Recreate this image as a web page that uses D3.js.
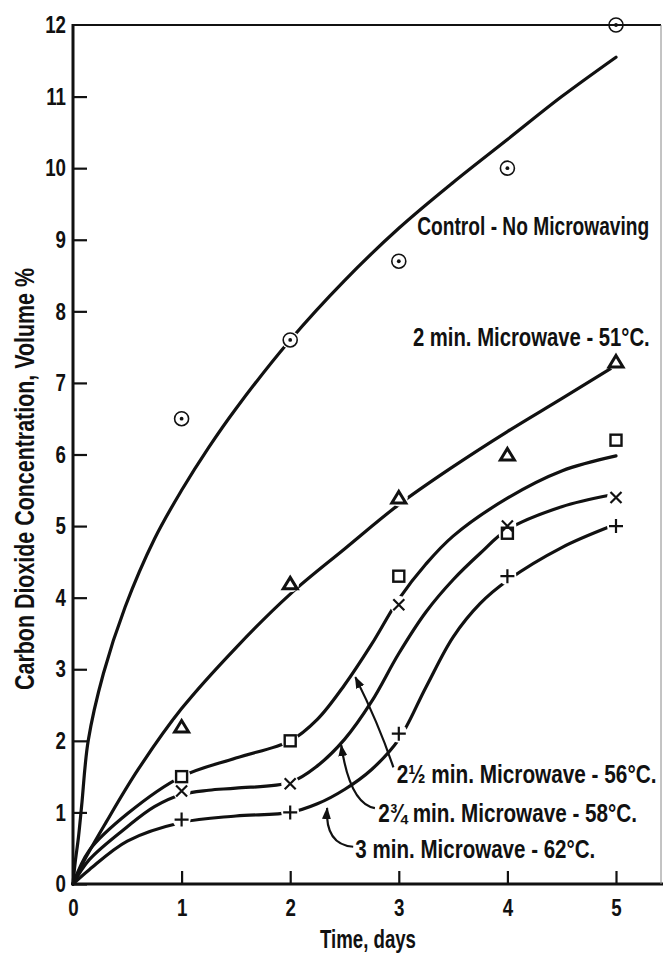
<!DOCTYPE html>
<html>
<head>
<meta charset="utf-8">
<script src="https://cdnjs.cloudflare.com/ajax/libs/d3/7.8.5/d3.min.js"></script>
<style>
    body { margin: 0; background: #fff; }
    svg text { font-family: "Liberation Sans", Arial, sans-serif; font-weight: bold; fill: #111; }
</style>
</head>
<body>
<div id="chart"></div>
<script>
// measured points (days 1..5)
var days = [1, 2, 3, 4, 5];
var controlPts = [6.5, 7.6, 8.7, 10.0, 12.0];
var twoMinPts = [2.2, 4.2, 5.4, 6.0, 7.3];
var twoHalfPts = [1.5, 2.0, 4.3, 4.9, 6.2];
var twoThreeQPts = [1.3, 1.4, 3.9, 5.0, 5.4];
var threeMinPts = [0.9, 1.0, 2.1, 4.3, 5.0];

// hand drawn curves as [day, volume %]
var controlCurve = [[0, 0], [0.02, 0.3], [0.05, 0.65], [0.08, 1.1], [0.14, 2.0], [0.28, 2.94], [0.48, 3.87],
    [0.75, 4.82], [1, 5.5], [1.25, 6.1], [1.5, 6.64], [2, 7.6], [2.5, 8.43], [3, 9.16], [3.5, 9.8],
    [4, 10.4], [4.5, 11.0], [5, 11.55]];
var twoMinCurve = [[0, 0], [0.09, 0.29], [0.3, 0.85], [0.6, 1.6], [1, 2.45], [1.5, 3.3], [2, 4.05],
    [2.5, 4.68], [3, 5.3], [3.5, 5.83], [4, 6.32], [4.5, 6.78], [4.95, 7.2]];
var twoHalfCurve = [[0, 0], [0.15, 0.47], [0.5, 0.98], [1, 1.5], [1.5, 1.76], [2, 2.0], [2.25, 2.3],
    [2.5, 2.78], [2.75, 3.35], [3, 3.98], [3.25, 4.47], [3.5, 4.86], [4, 5.39], [4.5, 5.77], [5, 5.98]];
var twoThreeQCurve = [[0, 0], [0.15, 0.34], [0.5, 0.8], [0.75, 1.08], [1, 1.25], [1.25, 1.31], [1.5, 1.34],
    [2, 1.42], [2.25, 1.65], [2.5, 2.02], [2.75, 2.55], [3, 3.22], [3.25, 3.8], [3.5, 4.25], [3.75, 4.62],
    [4, 4.95], [4.5, 5.27], [4.94, 5.43]];
var threeMinCurve = [[0, 0], [0.15, 0.2], [0.5, 0.6], [1, 0.86], [1.5, 0.95], [2, 1.0], [2.25, 1.12],
    [2.5, 1.32], [2.75, 1.6], [3, 2.02], [3.25, 2.75], [3.5, 3.45], [3.75, 3.92], [4, 4.24], [4.5, 4.7],
    [4.94, 4.99]];

var xTicks = [0, 1, 2, 3, 4, 5];
var yTicks = [0, 1, 2, 3, 4, 5, 6, 7, 8, 9, 10, 11, 12];

var curveLabels = ["Control - No Microwaving", "2 min. Microwave - 51\u00B0C.", "2\u00BD min. Microwave - 56\u00B0C.",
    "2\u00BE min. Microwave - 58\u00B0C.", "3 min. Microwave - 62\u00B0C."];

var width = 663, height = 953;

var x = d3.scaleLinear().domain([0, 5]).range([73, 616]);
var y = d3.scaleLinear().domain([0, 12]).range([884, 25]);

var svg = d3.select("#chart").append("svg")
    .attr("width", width)
    .attr("height", height);

var series = [
    {pts: controlPts, curve: controlCurve, shape: "dot"},
    {pts: twoMinPts, curve: twoMinCurve, shape: "triangle"},
    {pts: twoHalfPts, curve: twoHalfCurve, shape: "square"},
    {pts: twoThreeQPts, curve: twoThreeQCurve, shape: "times"},
    {pts: threeMinPts, curve: threeMinCurve, shape: "plus"}
];

var lineFunction = d3.line()
    .x(function (d) { return x(d[0]); })
    .y(function (d) { return y(d[1]); })
    .curve(d3.curveCatmullRom.alpha(0.5));

svg.append("g").selectAll("path")
    .data(series)
    .enter().append("path")
    .attr("fill", "none")
    .attr("stroke", "#111")
    .attr("stroke-width", 3.2)
    .attr("stroke-linecap", "round")
    .attr("d", function (d) { return lineFunction(d.curve); });

// the draftsman left a gap round each point
series.forEach(function (s) {
    svg.append("g").selectAll("circle")
        .data(s.pts)
        .enter().append("circle")
        .attr("cx", function (d, i) { return x(days[i]); })
        .attr("cy", function (d) { return y(d); })
        .attr("r", 9)
        .attr("fill", "#fff");
});

// squeeze a text sideways to the width it has in the print
function condense(sel, w, base) {
    var natural = sel.node().getComputedTextLength();
    sel.attr("transform", base + " scale(" + (w / natural) + ",1)");
}

// axes
var xAxis = svg.append("g")
    .attr("transform", "translate(0," + y(0) + ")")
    .call(d3.axisBottom(x).tickValues(xTicks).tickFormat(d3.format("d"))
        .tickSize(-13).tickSizeOuter(0).tickPadding(15));
var yAxis = svg.append("g")
    .attr("transform", "translate(" + x(0) + ",0)")
    .call(d3.axisLeft(y).tickValues(yTicks).tickFormat(d3.format("d"))
        .tickSize(-14).tickSizeOuter(0).tickPadding(7));

[xAxis, yAxis].forEach(function (a) {
    a.select(".domain").remove();
    a.selectAll(".tick line").attr("stroke", "#111").attr("stroke-width", 2.2);
    a.selectAll(".tick text").attr("font-size", 24).attr("fill", "#111");
});
xAxis.selectAll(".tick text").attr("transform", "scale(0.78,1)");
yAxis.selectAll(".tick text").attr("x", -7 / 0.78).attr("transform", "scale(0.78,1)");
yAxis.selectAll(".tick").filter(function (d) { return d === 12; }).select("line").remove();

// frame
svg.append("line")
    .attr("x1", x(0) - 1.5).attr("x2", width)
    .attr("y1", y(0)).attr("y2", y(0))
    .attr("stroke", "#111").attr("stroke-width", 3.2);
svg.append("line")
    .attr("x1", x(0)).attr("x2", x(0))
    .attr("y1", y(0)).attr("y2", y(12) - 1)
    .attr("stroke", "#111").attr("stroke-width", 3);
svg.append("line")
    .attr("x1", x(0)).attr("x2", width - 2)
    .attr("y1", y(12)).attr("y2", y(12))
    .attr("stroke", "#111").attr("stroke-width", 2);
svg.append("line")
    .attr("x1", width - 2).attr("x2", width - 2)
    .attr("y1", y(12)).attr("y2", y(0))
    .attr("stroke", "#888").attr("stroke-width", 1);

// point symbols
var shapes = {
    dot: function (g) {
        g.append("circle").attr("r", 7).attr("fill", "none").attr("stroke", "#111").attr("stroke-width", 1.6);
        g.append("circle").attr("r", 1.9).attr("fill", "#111");
    },
    triangle: function (g) {
        g.append("path").attr("d", "M0,-6L7,5.5L-7,5.5Z")
            .attr("fill", "none").attr("stroke", "#111").attr("stroke-width", 3).attr("stroke-linejoin", "miter");
    },
    square: function (g) {
        g.append("rect").attr("x", -5.5).attr("y", -5.5).attr("width", 11).attr("height", 11)
            .attr("fill", "none").attr("stroke", "#111").attr("stroke-width", 2.4);
    },
    times: function (g) {
        g.append("path").attr("d", "M-5.5,-5.5L5.5,5.5M5.5,-5.5L-5.5,5.5")
            .attr("stroke", "#111").attr("stroke-width", 2.2);
    },
    plus: function (g) {
        g.append("path").attr("d", "M-7,0L7,0M0,-7L0,7")
            .attr("stroke", "#111").attr("stroke-width", 2.2);
    }
};

series.forEach(function (s) {
    s.pts.forEach(function (v, i) {
        var g = svg.append("g").attr("transform", "translate(" + x(days[i]) + "," + y(v) + ")");
        shapes[s.shape](g);
    });
});

// curve labels: [day, volume %, text width]
var labelAt = [[3.17, 9.07, 232], [3.13, 7.52, 237], [2.98, 1.41, 260], [2.81, 0.87, 259], [2.6, 0.36, 240]];
curveLabels.forEach(function (t, i) {
    var lab = svg.append("text")
        .attr("font-size", 25)
        .text(t);
    condense(lab, labelAt[i][2], "translate(" + x(labelAt[i][0]) + "," + y(labelAt[i][1]) + ")");
});

// arrows from the lower labels to their curves: start, bend, tip
var arrows = [
    [[2.95, 1.63], [2.82, 2.22], [2.6, 2.89]],
    [[2.78, 1.06], [2.55, 1.12], [2.47, 1.94]],
    [[2.58, 0.52], [2.32, 0.55], [2.34, 1.06]]
];

svg.append("defs").append("marker")
    .attr("id", "head")
    .attr("viewBox", "0 -5 12 10")
    .attr("refX", 11)
    .attr("refY", 0)
    .attr("markerUnits", "userSpaceOnUse")
    .attr("markerWidth", 12)
    .attr("markerHeight", 10)
    .attr("orient", "auto")
    .append("path")
    .attr("d", "M0,-4.5L12,0L0,4.5Z")
    .attr("fill", "#111");

svg.append("g").selectAll("path")
    .data(arrows)
    .enter().append("path")
    .attr("fill", "none")
    .attr("stroke", "#111")
    .attr("stroke-width", 2.2)
    .attr("marker-end", "url(#head)")
    .attr("d", function (d) {
        var p = d3.path();
        p.moveTo(x(d[0][0]), y(d[0][1]));
        p.quadraticCurveTo(x(d[1][0]), y(d[1][1]), x(d[2][0]), y(d[2][1]));
        return p.toString();
    });

// axis titles
var xTitle = svg.append("text")
    .attr("text-anchor", "middle")
    .attr("font-size", 25)
    .text("Time, days");
condense(xTitle, 96, "translate(" + ((x(0) + width) / 2) + ",948)");

var yTitle = svg.append("text")
    .attr("text-anchor", "middle")
    .attr("font-size", 27)
    .text("Carbon Dioxide Concentration, Volume %");
condense(yTitle, 422, "translate(34,479) rotate(-90)");
</script>
</body>
</html>
